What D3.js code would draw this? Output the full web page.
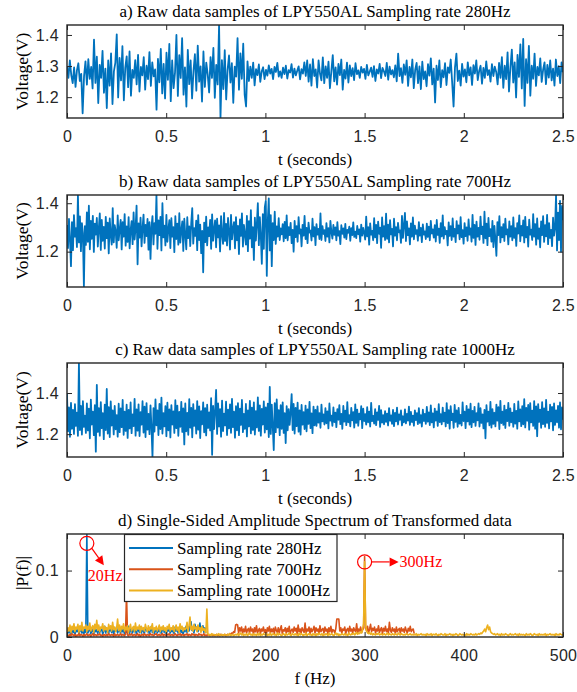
<!DOCTYPE html>
<html>
<head>
<meta charset="utf-8">
<script src="https://cdn.jsdelivr.net/npm/d3@7"></script>
<style>
  body { margin: 0; background: #fff; }
</style>
</head>
<body>
<svg id="chart" width="577" height="692"></svg>
<script>
// ---- data (voltages in mV, spectra in units of 0.001) ----
const T_END = 2.5;
const timeTicks = [0, 0.5, 1, 1.5, 2, 2.5];
const freqTicks = [0, 100, 200, 300, 400, 500];
const voltTicksA = [1.2, 1.3, 1.4];
const voltTicksBC = [1.2, 1.4];
const ampTicks = [0, 0.1];
const ampMax = 0.155;
const freqStep = 1; // Hz between spectrum points

const titles = [
  'a) Raw data samples of LPY550AL Sampling rate 280Hz',
  'b) Raw data samples of LPY550AL Sampling rate 700Hz',
  'c) Raw data samples of LPY550AL Sampling rate 1000Hz',
  'd) Single-Sided Amplitude Spectrum of Transformed data'
];
const legendNames = ['Sampling rate 280Hz', 'Sampling rate 700Hz', 'Sampling rate 1000Hz'];

const raw280 = [
1300,1262,1318,1271,1245,1296,1233,1287,1309,1252,
1275,1148,1268,1315,1240,1322,1259,1297,1228,1385,
1246,1330,1181,1304,1262,1349,1214,1292,1165,1318,
1237,1341,1178,1283,1310,1402,1199,1326,1254,1364,
1190,1295,1331,1232,1347,1205,1288,1262,1319,1241,
1336,1218,1297,1270,1329,1224,1301,1258,1345,1236,
1312,1267,1289,1160,1323,1248,1355,1212,1307,1196,
1343,1256,1371,1187,1318,1229,1279,1400,1204,1335,
1262,1390,1208,1296,1170,1352,1242,1318,1196,1284,
1338,1221,1366,1250,1299,1186,1347,1233,1311,1273,
1215,1329,1262,1358,1198,1304,1241,1432,1133,1319,
1226,1351,1193,1288,1334,1247,1309,1182,1298,1266,
1390,1224,1341,1259,1372,1208,1170,1315,1252,1298,
1262,1311,1238,1290,1271,1305,1249,1283,1296,1258,
1288,1269,1302,1276,1291,1258,1297,1281,1310,1266,
1283,1262,1295,1274,1301,1260,1287,1279,1306,1263,
1292,1270,1285,1299,1257,1290,1276,1312,1268,1318,
1250,1305,1237,1322,1268,1289,1231,1318,1276,1254,
1328,1245,1299,1262,1314,1229,1283,1335,1251,1296,
1240,1307,1271,1321,1224,1288,1260,1311,1247,1302,
1268,1293,1255,1309,1274,1286,1262,1297,1279,1291,
1259,1304,1270,1282,1295,1265,1300,1252,1289,1276,
1307,1261,1294,1283,1268,1310,1256,1298,1273,1287,
1264,1302,1251,1340,1268,1293,1246,1305,1272,1318,
1236,1297,1264,1321,1229,1288,1310,1245,1299,1226,
1314,1258,1283,1235,1306,1269,1325,1241,1292,1183,
1301,1255,1318,1232,1287,1264,1309,1239,1296,1278,
1321,1248,1170,1296,1340,1252,1285,1237,1307,1266,
1289,1248,1312,1270,1296,1239,1303,1276,1318,1255,
1284,1301,1243,1294,1262,1315,1271,1287,1250,1306,
1268,1298,1281,1241,1310,1262,1329,1230,1301,1258,
1344,1218,1296,1353,1247,1312,1199,1336,1265,1370,
1228,1387,1172,1322,1246,1365,1205,1301,1259,1340,
1236,1297,1270,1325,1249,1288,1312,1242,1304,1263,
1318,1254,1292,1237,1321,1268,1300,1245,1312,1280
];

const raw700 = [
1310,1215,1335,1248,1140,1322,1206,1351,1262,1297,
1219,1434,1238,1346,1202,1318,1276,1054,1305,1228,
1362,1241,1390,1210,1327,1253,1348,1199,1316,1270,
1339,1221,1296,1358,1207,1331,1245,1302,1213,1344,
1256,1320,1193,1337,1268,1229,1380,1238,1309,1284,
1216,1350,1247,1291,1331,1209,1322,1262,1355,1225,
1304,1240,1343,1214,1289,1326,1231,1362,1250,1298,
1390,1148,1317,1258,1340,1222,1296,1353,1236,1311,
1264,1335,1208,1322,1170,1301,1347,1230,1318,1274,
1434,1212,1329,1268,1344,1205,1400,1259,1307,1226,
1352,1241,1293,1330,1215,1338,1262,1301,1198,1347,
1252,1316,1229,1359,1237,1288,1325,1203,1336,1270,
1210,1342,1256,1304,1223,1319,1380,1233,1297,1265,
1328,1206,1351,1248,1312,1194,1286,1115,1320,1239,
1345,1226,1300,1264,1331,1212,1354,1245,1293,1329,
1218,1336,1259,1308,1201,1347,1270,1232,1360,1244,
1315,1226,1339,1284,1209,1352,1251,1297,1322,1214,
1343,1247,1306,1190,1333,1265,1358,1221,1310,1270,
1229,1348,1202,1326,1254,1371,1218,1301,1166,1340,
1246,1315,1400,1227,1342,1263,1150,1355,1212,1384,
1410,1100,1327,1420,1205,1351,1140,1318,1248,1365,
1232,1304,1262,1338,1248,1296,1271,1314,1243,1323,
1256,1350,1247,1301,1268,1319,1235,1290,1200,1327,
1260,1305,1241,1343,1275,1292,1222,1311,1266,1348,
1252,1298,1235,1320,1279,1287,1246,1336,1263,1301,
1227,1314,1270,1294,1252,1358,1248,1305,1273,1289,
1244,1318,1262,1297,1238,1327,1281,1254,1310,1269,
1300,1247,1322,1266,1285,1231,1309,1274,1296,1258,
1315,1252,1290,1278,1303,1245,1297,1268,1321,1261,
1283,1256,1306,1272,1292,1241,1312,1266,1298,1277,
1250,1345,1263,1301,1229,1317,1270,1286,1247,1338,
1259,1311,1235,1324,1274,1299,1216,1341,1262,1305,
1248,1357,1253,1312,1238,1330,1271,1294,1222,1336,
1266,1301,1247,1319,1280,1288,1236,1348,1257,1310,
1360,1244,1325,1268,1296,1230,1317,1262,1341,1251,
1307,1273,1289,1245,1322,1266,1298,1239,1313,1270,
1284,1252,1316,1261,1303,1247,1327,1275,1292,1258,
1309,1242,1331,1269,1295,1236,1318,1263,1350,1254,
1301,1271,1286,1226,1321,1265,1305,1248,1337,1262,
1294,1239,1326,1275,1308,1251,1343,1260,1289,1233,
1318,1264,1300,1245,1333,1270,1296,1241,1352,1257,
1311,1228,1324,1262,1298,1249,1345,1272,1303,1236,
1365,1255,1316,1227,1339,1264,1293,1241,1327,1219,
1306,1250,1183,1322,1268,1347,1238,1301,1259,1314,
1244,1336,1271,1292,1230,1325,1262,1305,1247,1341,
1257,1297,1224,1318,1275,1350,1243,1306,1266,1329,
1238,1344,1259,1302,1221,1332,1270,1291,1248,1355,
1262,1314,1229,1337,1253,1296,1218,1325,1268,1347,
1240,1309,1263,1352,1231,1318,1257,1290,1223,1340,
1266,1298,1434,1205,1361,1248,1410,1200,1389,1330
];

const raw1000 = [
1395,1214,1330,1187,1352,1226,1318,1201,1346,1240,
1305,1192,1546,1220,1337,1198,1361,1235,1290,1206,
1349,1218,1324,1180,1368,1247,1310,1195,1341,1115,
1440,1211,1327,1193,1356,1229,1302,1176,1344,1220,
1420,1203,1331,1186,1359,1242,1315,1199,1337,1224,
1292,1188,1348,1210,1325,1234,1366,1197,1309,1216,
1343,1182,1318,1228,1354,1205,1296,1239,1372,1193,
1321,1217,1345,1191,1307,1246,1360,1208,1334,1186,
1351,1222,1299,1200,1340,1231,1089,1326,1213,1369,
1243,1316,1196,1347,1225,1378,1203,1302,1238,1336,
1190,1353,1219,1320,1184,1341,1247,1311,1206,1365,
1229,1339,1192,1308,1236,1357,1211,1325,1150,1349,
1214,1303,1197,1370,1232,1328,1185,1346,1240,1316,
1203,1361,1222,1335,1181,1312,1248,1354,1209,1327,
1194,1343,1230,1306,1218,1375,1100,1338,1225,1314,
1415,1201,1349,1237,1322,1188,1363,1215,1300,1242,
1358,1196,1319,1228,1345,1207,1372,1234,1309,1183,
1336,1219,1351,1195,1324,1245,1366,1210,1298,1226,
1347,1189,1315,1238,1362,1204,1329,1221,1355,1198,
1312,1233,1379,1216,1340,1193,1323,1247,1359,1208,
1330,1224,1348,1186,1430,1201,1344,1237,1123,1351,
1210,1369,1232,1317,1195,1341,1226,1355,1206,1302,
1157,1336,1219,1322,1245,1308,1395,1220,1347,1203,
1328,1239,1353,1212,1316,1198,1342,1246,1307,1225,
1339,1214,1320,1250,1357,1229,1301,1205,1334,1243,
1318,1240,1335,1256,1302,1231,1344,1262,1296,1247,
1326,1253,1311,1228,1349,1266,1290,1240,1330,1259,
1305,1234,1322,1270,1341,1249,1298,1226,1337,1261,
1314,1244,1356,1258,1293,1238,1328,1267,1307,1232,
1345,1255,1319,1241,1300,1272,1336,1229,1324,1264,
1297,1246,1331,1258,1310,1237,1352,1263,1289,1251,
1322,1244,1306,1269,1338,1235,1317,1256,1293,1248,
1312,1260,1300,1242,1327,1265,1291,1250,1318,1239,
1303,1262,1329,1247,1296,1270,1315,1243,1287,1258,
1321,1252,1299,1266,1334,1245,1308,1259,1290,1241,
1316,1268,1302,1249,1327,1255,1293,1237,1319,1264,
1298,1250,1333,1261,1306,1244,1340,1257,1301,1233,
1324,1266,1311,1240,1346,1259,1297,1248,1329,1262,
1305,1238,1351,1254,1317,1227,1336,1268,1300,1231,
1342,1260,1315,1236,1328,1251,1294,1242,1355,1264,
1309,1229,1337,1262,1321,1246,1348,1234,1313,1258,
1333,1240,1302,1267,1350,1237,1326,1255,1296,1228,
1318,1180,1341,1261,1310,1243,1357,1232,1322,1250,
1304,1238,1344,1266,1331,1225,1362,1254,1309,1245,
1339,1230,1318,1263,1352,1241,1325,1258,1305,1236,
1347,1251,1313,1227,1359,1262,1320,1239,1336,1248,
1370,1233,1328,1265,1342,1222,1351,1257,1314,1240,
1361,1227,1335,1190,1346,1260,1319,1231,1356,1249,
1325,1236,1367,1255,1310,1228,1343,1262,1332,1219,
1349,1245,1316,1258,1338,1232,1354,1224,1330,1270
];

// |P(f)| spectra, 1 Hz apart from 0 Hz
const spec280 = [
4,9,6,12,5,14,7,10,3,11, 8,13,5,9,15,6,11,4,12,7,
155,6,10,14,5,9,12,4,13,8, 11,5,15,7,10,13,4,9,16,6,
12,8,5,14,10,7,13,4,11,9, 15,6,10,12,5,14,8,11,4,13,
7,10,16,5,12,9,6,14,8,11, 4,13,10,7,15,6,12,9,5,14,
11,8,13,4,10,16,7,12,5,9, 14,6,11,8,13,5,10,15,7,12,
4,11,9,14,6,13,8,10,5,15, 9,12,6,11,14,7,10,4,13,8,
16,7,12,9,18,23,10,14,6,19, 11,15,8,13,21,9,12,17,7,14,
6
];

const spec700 = [
2,3,1,4,2,5,3,2,4,1, 3,2,5,2,4,3,1,4,2,3,
5,2,3,4,1,3,5,2,4,3, 2,4,3,5,2,3,1,4,3,2,
4,2,5,3,2,4,3,1,5,2, 3,4,2,3,5,2,4,3,2,4,
65,3,2,4,3,5,2,3,4,2, 3,5,2,4,1,3,4,2,5,3,
2,4,3,2,5,3,4,2,3,4, 5,2,3,4,2,3,5,2,4,3,
2,4,3,5,2,3,4,2,3,5, 3,2,4,3,5,2,4,3,2,4,
3,5,2,4,3,2,5,3,4,2, 4,3,2,5,3,4,2,3,5,2,
3,2,4,3,2,3,4,2,3,2, 3,4,2,3,2,4,3,2,3,4,
2,3,4,3,5,4,6,5,8,7, 18,19,18,6,14,9,15,5,12,8,
16,6,11,13,5,15,9,12,4,14, 8,17,6,10,13,5,12,9,15,7,
11,4,14,9,16,6,12,8,13,5, 15,10,7,14,6,12,17,5,11,9,
14,6,13,8,16,5,10,12,7,15, 9,13,5,18,8,12,6,14,10,7,
21,6,12,9,15,5,13,8,11,16, 6,14,9,12,5,17,8,11,13,6,
15,9,12,5,14,8,16,7,11,10, 6,13,27,27,27,9,14,6,12,10,
15,5,11,13,7,16,9,12,6,14, 10,8,20,6,12,9,15,7,11,13,
121,14,9,16,6,12,19,8,13,10, 15,6,12,9,17,7,11,14,5,13,
9,16,8,12,6,22,10,7,14,9, 12,5,15,8,11,13,6,14,9,12,
7,15,10,6,13,9,16,8,11,12, 5
];

const spec1000 = [
6,14,9,18,7,16,11,20,8,15, 12,19,7,17,10,22,9,15,13,18,
8,16,11,21,9,14,17,7,19,12, 25,10,18,8,15,13,20,9,16,11,
14,7,19,12,17,9,22,11,15,8, 13,27,10,18,8,16,12,20,9,15,
11,17,7,14,19,9,13,16,8,21, 10,15,12,18,7,16,11,14,9,19,
13,8,17,10,15,12,20,7,14,11, 16,9,13,18,8,15,11,17,10,14,
7,16,12,19,9,14,11,17,8,13, 18,10,15,7,20,12,16,9,14,11,
13,22,8,17,30,11,16,9,19,12, 15,8,18,11,14,7,16,10,13,9,
6,42,5,3,4,2,5,3,4,3, 2,4,3,5,2,3,4,2,3,4,
3,2,4,3,5,2,3,4,2,3, 4,3,5,2,4,6,3,5,2,4,
3,5,2,4,6,3,4,2,5,3, 4,2,5,3,6,2,4,3,5,4,
3,5,2,4,3,6,2,4,5,3, 4,2,6,3,5,4,2,3,5,4,
2,5,3,4,6,3,2,5,4,3, 5,3,4,2,6,3,5,4,2,4,
3,6,2,4,5,3,4,2,5,3, 4,2,5,3,6,4,3,5,2,4,
3,5,4,2,6,3,4,5,3,2, 4,6,3,5,2,4,3,5,4,3,
5,3,4,2,6,4,3,5,4,6, 3,5,7,4,6,5,8,6,12,20,
113,18,9,6,5,7,4,6,3,5, 4,3,5,4,6,3,4,5,3,4,
5,3,4,6,3,5,4,3,5,4, 3,5,4,3,6,4,3,5,4,3,
4,3,5,4,3,4,5,3,4,3, 4,3,5,2,4,3,4,5,3,4,
3,4,2,5,3,4,3,5,2,4, 4,3,5,3,2,4,3,5,4,3,
3,5,2,4,3,4,5,3,4,2, 4,3,5,4,2,3,5,4,3,4,
3,4,2,5,3,4,3,5,4,3, 4,3,5,3,4,5,4,6,5,7,
9,12,8,14,18,11,15,8,6,5, 4,5,3,4,5,3,4,2,5,3,
4,3,5,4,3,2,4,5,3,4, 3,4,5,3,4,2,5,3,4,3,
4,3,2,5,3,4,3,5,4,2, 3,5,4,3,4,2,5,3,4,3,
4,3,5,2,4,3,4,5,3,4, 3,4,2,5,3,4,3,5,4,3,
4
];

// annotated peaks: [frequency, amplitude]
const peak20 = [20, 0.141];
const peak300 = [300, 0.113];

// ---- drawing ----
const svg = d3.select('#chart');
const X0 = 67, X1 = 563;
const INK = '#262626';
const SERIF = '"Liberation Serif", "Times New Roman", serif';
const SANS = '"Liberation Sans", Arial, sans-serif';
const COLORS = ['#0072BD', '#D95319', '#EDB120'];

function panel(o) {
  const g = svg.append('g');
  const x = d3.scaleLinear().domain(o.xDomain).range([X0, X1]);
  const y = d3.scaleLinear().domain(o.yDomain).range([o.bottom, o.top]);

  svg.append('clipPath').attr('id', 'clip' + o.key)
    .append('rect')
    .attr('x', X0).attr('y', o.top)
    .attr('width', X1 - X0).attr('height', o.bottom - o.top);

  const plot = g.append('g').attr('clip-path', `url(#clip${o.key})`);
  o.series.forEach(s => {
    const line = d3.line().x((d, i) => x(i * s.step)).y(d => y(d));
    plot.append('path')
      .datum(s.values)
      .attr('fill', 'none')
      .attr('stroke', s.color)
      .attr('stroke-width', o.lineWidth)
      .attr('stroke-linejoin', 'round')
      .attr('d', line);
  });

  const fmt = d3.format('~g');
  const styleAxis = sel => {
    sel.select('.domain').remove();
    sel.selectAll('line').attr('stroke', INK).attr('stroke-width', 1);
    sel.selectAll('text')
      .attr('fill', INK)
      .style('font-family', SANS)
      .style('font-size', '16px')
      .style('letter-spacing', '0.3px');
  };

  g.append('g').attr('transform', `translate(0,${o.bottom})`)
    .call(d3.axisBottom(x).tickValues(o.xTicks).tickFormat(fmt)
      .tickSizeInner(-5).tickSizeOuter(0).tickPadding(13))
    .call(styleAxis);
  g.append('g').attr('transform', `translate(0,${o.top})`)
    .call(d3.axisTop(x).tickValues(o.xTicks).tickFormat('')
      .tickSizeInner(-5).tickSizeOuter(0))
    .call(styleAxis);
  g.append('g').attr('transform', `translate(${X0},0)`)
    .call(d3.axisLeft(y).tickValues(o.yTicks).tickFormat(fmt)
      .tickSizeInner(-5).tickSizeOuter(0).tickPadding(8))
    .call(styleAxis);
  g.append('g').attr('transform', `translate(${X1},0)`)
    .call(d3.axisRight(y).tickValues(o.yTicks).tickFormat('')
      .tickSizeInner(-5).tickSizeOuter(0))
    .call(styleAxis);

  g.append('rect')
    .attr('x', X0).attr('y', o.top)
    .attr('width', X1 - X0).attr('height', o.bottom - o.top)
    .attr('fill', 'none').attr('stroke', INK).attr('stroke-width', 1.4);

  const serifText = (sel, size) => sel
    .attr('fill', '#000')
    .style('font-family', SERIF)
    .style('font-size', size + 'px');

  g.append('text')
    .attr('x', (X0 + X1) / 2).attr('y', o.top - 8)
    .attr('text-anchor', 'middle')
    .text(o.title).call(serifText, 17);
  g.append('text')
    .attr('x', (X0 + X1) / 2).attr('y', o.bottom + 47)
    .attr('text-anchor', 'middle')
    .text(o.xLabel).call(serifText, 17);
  g.append('text')
    .attr('transform', `translate(28,${o.yLabelY ?? (o.top + o.bottom) / 2}) rotate(-90)`)
    .attr('text-anchor', 'middle')
    .text(o.yLabel).call(serifText, 17.5);

  return { g, x, y };
}

const mv = arr => arr.map(v => v / 1000);
const rawSets = [raw280, raw700, raw1000];
const rawBoxes = [[25, 118], [195, 287], [363, 457]];
const rawYTicks = [voltTicksA, voltTicksBC, voltTicksBC];

rawSets.forEach((raw, k) => {
  const vals = mv(raw);
  panel({
    key: k,
    top: rawBoxes[k][0], bottom: rawBoxes[k][1],
    xDomain: [0, T_END], yDomain: d3.extent(vals),
    xTicks: timeTicks, yTicks: rawYTicks[k],
    title: titles[k], xLabel: 't (seconds)', yLabel: 'Voltage(V)',
    lineWidth: 1.8,
    series: [{ values: vals, step: T_END / (vals.length - 1), color: COLORS[0] }]
  });
});

const specs = [spec280, spec700, spec1000].map(mv);
const pd = panel({
  key: 3,
  top: 534, bottom: 637,
  xDomain: [0, 500], yDomain: [0, ampMax],
  xTicks: freqTicks, yTicks: ampTicks,
  title: titles[3], xLabel: 'f (Hz)', yLabel: '|P(f)|', yLabelY: 573,
  lineWidth: 1.6,
  series: specs.map((s, k) => ({ values: s, step: freqStep, color: COLORS[k] }))
});

// legend
const lg = pd.g.append('g');
lg.append('rect')
  .attr('x', 124.5).attr('y', 534.5).attr('width', 212.5).attr('height', 67)
  .attr('fill', '#fff').attr('stroke', INK).attr('stroke-width', 1.2);
legendNames.forEach((name, k) => {
  const ly = 548 + k * 21.2;
  lg.append('line')
    .attr('x1', 129).attr('x2', 173).attr('y1', ly).attr('y2', ly)
    .attr('stroke', COLORS[k]).attr('stroke-width', 2);
  lg.append('text')
    .attr('x', 177).attr('y', ly + 5.5)
    .attr('fill', '#000')
    .style('font-family', SERIF).style('font-size', '17px')
    .text(name);
});

// annotations
const RED = '#FF0000';
const ann = pd.g.append('g');
function arrow(x1, y1, x2, y2) {
  const a = Math.atan2(y2 - y1, x2 - x1), L = 9, Wd = 4.5;
  const bx = x2 - L * Math.cos(a), by = y2 - L * Math.sin(a);
  ann.append('line').attr('x1', x1).attr('y1', y1).attr('x2', bx).attr('y2', by)
    .attr('stroke', RED).attr('stroke-width', 1.2);
  ann.append('path')
    .attr('d', `M${x2},${y2}L${bx - Wd * Math.sin(a)},${by + Wd * Math.cos(a)}L${bx + Wd * Math.sin(a)},${by - Wd * Math.cos(a)}Z`)
    .attr('fill', RED);
}
[peak20, peak300].forEach(p => {
  ann.append('circle')
    .attr('cx', pd.x(p[0])).attr('cy', pd.y(p[1])).attr('r', 7)
    .attr('fill', 'none').attr('stroke', RED).attr('stroke-width', 1.2);
});
{
  const cx = pd.x(peak20[0]), cy = pd.y(peak20[1]);
  arrow(cx + 5, cy + 5, cx + 17, cy + 22);
  ann.append('text').attr('x', cx + 1).attr('y', cy + 38)
    .attr('fill', RED).style('font-family', SERIF).style('font-size', '16px')
    .text('20Hz');
}
{
  const cx = pd.x(peak300[0]), cy = pd.y(peak300[1]);
  arrow(cx + 7, cy, cx + 34, cy);
  ann.append('text').attr('x', cx + 35).attr('y', cy + 5.5)
    .attr('fill', RED).style('font-family', SERIF).style('font-size', '16px')
    .text('300Hz');
}
</script>
</body>
</html>
